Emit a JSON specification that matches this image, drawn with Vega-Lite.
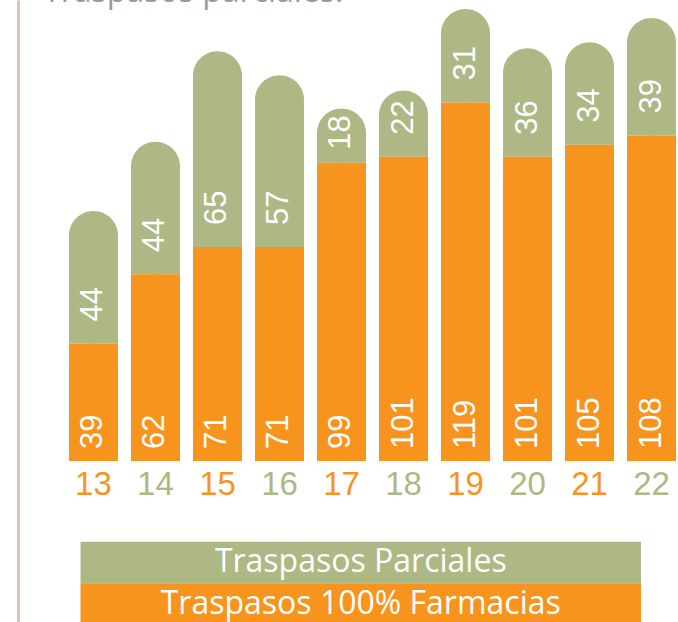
{
  "$schema": "https://vega.github.io/schema/vega-lite/v6.json",
  "autosize": "none",
  "width": 611,
  "height": 622,
  "padding": {"left": 67, "top": 0, "right": 0, "bottom": 0},
  "background": "white",
  "title": {
    "text": "Traspasos parciales.",
    "orient": "top",
    "anchor": "start",
    "frame": "group",
    "baseline": "alphabetic",
    "offset": -34,
    "dx": -24,
    "fontSize": 32,
    "font": "Open Sans",
    "fontWeight": "normal",
    "color": "#9a9a9a"
  },
  "config": {"view": {"stroke": null}},
  "resolve": {"scale": {"x": "independent", "y": "independent"}},
  "layer": [
    {
      "data": {
        "values": [
          {"year": "13", "serie": "Traspasos 100% Farmacias", "valor": 39},
          {"year": "13", "serie": "Traspasos Parciales", "valor": 44},
          {"year": "14", "serie": "Traspasos 100% Farmacias", "valor": 62},
          {"year": "14", "serie": "Traspasos Parciales", "valor": 44},
          {"year": "15", "serie": "Traspasos 100% Farmacias", "valor": 71},
          {"year": "15", "serie": "Traspasos Parciales", "valor": 65},
          {"year": "16", "serie": "Traspasos 100% Farmacias", "valor": 71},
          {"year": "16", "serie": "Traspasos Parciales", "valor": 57},
          {"year": "17", "serie": "Traspasos 100% Farmacias", "valor": 99},
          {"year": "17", "serie": "Traspasos Parciales", "valor": 18},
          {"year": "18", "serie": "Traspasos 100% Farmacias", "valor": 101},
          {"year": "18", "serie": "Traspasos Parciales", "valor": 22},
          {"year": "19", "serie": "Traspasos 100% Farmacias", "valor": 119},
          {"year": "19", "serie": "Traspasos Parciales", "valor": 31},
          {"year": "20", "serie": "Traspasos 100% Farmacias", "valor": 101},
          {"year": "20", "serie": "Traspasos Parciales", "valor": 36},
          {"year": "21", "serie": "Traspasos 100% Farmacias", "valor": 105},
          {"year": "21", "serie": "Traspasos Parciales", "valor": 34},
          {"year": "22", "serie": "Traspasos 100% Farmacias", "valor": 108},
          {"year": "22", "serie": "Traspasos Parciales", "valor": 39}
        ]
      },
      "transform": [
        {"stack": "valor", "groupby": ["year"], "sort": [{"field": "serie", "order": "ascending"}], "as": ["y0", "y1"]}
      ],
      "encoding": {
        "x": {
          "field": "year",
          "type": "nominal",
          "sort": null,
          "scale": {"paddingInner": 0.21, "paddingOuter": 0.032},
          "axis": {
            "orient": "bottom",
            "offset": -161,
            "domain": false,
            "ticks": false,
            "tickSize": 0,
            "labelPadding": 7,
            "labelAngle": 0,
            "labelFont": "Liberation Sans",
            "labelFontSize": 33,
            "labelColor": {"expr": "toNumber(datum.value) % 2 == 1 ? '#f7941d' : '#adb884'"},
            "title": null
          }
        },
        "y": {
          "field": "y1",
          "type": "quantitative",
          "scale": {"domain": [-53.4, 153], "nice": false, "zero": false},
          "axis": {
            "orient": "left",
            "offset": 49,
            "domain": true,
            "domainColor": "#d6c6b3",
            "domainWidth": 3,
            "labels": false,
            "ticks": false,
            "grid": false,
            "title": null
          }
        },
        "y2": {"field": "y0"}
      },
      "layer": [
        {
          "mark": {"type": "bar", "cornerRadiusTopLeft": 24.5, "cornerRadiusTopRight": 24.5},
          "encoding": {
            "color": {
              "field": "serie",
              "type": "nominal",
              "scale": {"domain": ["Traspasos Parciales", "Traspasos 100% Farmacias"], "range": ["#adb884", "#f7941d"]},
              "legend": null
            }
          }
        },
        {
          "transform": [{"filter": "datum.serie == 'Traspasos 100% Farmacias'"}],
          "mark": {"type": "bar", "color": "#f7941d"}
        },
        {
          "transform": [{"filter": "datum.serie == 'Traspasos 100% Farmacias'"}],
          "mark": {"type": "text", "angle": 270, "align": "left", "baseline": "middle", "dx": 12, "color": "white", "font": "Liberation Sans", "fontSize": 31},
          "encoding": {"y": {"field": "y0", "type": "quantitative"}, "y2": null, "text": {"field": "valor", "type": "quantitative"}}
        },
        {
          "transform": [{"filter": "datum.serie == 'Traspasos Parciales'"}],
          "mark": {"type": "text", "angle": 270, "align": "left", "baseline": "middle", "dx": {"expr": "datum.valor < 20 ? 13 : 22"}, "color": "white", "font": "Liberation Sans", "fontSize": 31},
          "encoding": {"y": {"field": "y0", "type": "quantitative"}, "y2": null, "text": {"field": "valor", "type": "quantitative"}}
        }
      ]
    },
    {
      "data": {
        "values": [
          {"serie": "Traspasos Parciales"},
          {"serie": "Traspasos 100% Farmacias"}
        ]
      },
      "encoding": {
        "y": {
          "field": "serie",
          "type": "nominal",
          "sort": null,
          "scale": {"domain": ["Traspasos Parciales", "Traspasos 100% Farmacias"], "range": [541.7, 624.7], "paddingInner": 0, "paddingOuter": 0},
          "axis": null
        }
      },
      "layer": [
        {
          "mark": {"type": "rect"},
          "encoding": {
            "x": {"datum": 0, "type": "quantitative", "scale": {"domain": [0, 1], "range": [13.5, 574], "nice": false, "zero": false}, "axis": null},
            "x2": {"datum": 1},
            "color": {"field": "serie", "type": "nominal", "legend": null}
          }
        },
        {
          "mark": {"type": "text", "color": "white", "font": "Open Sans", "fontWeight": "normal", "fontSize": 32, "align": "center", "baseline": "middle"},
          "encoding": {
            "x": {"datum": 0.5, "type": "quantitative", "scale": {"domain": [0, 1], "range": [13.5, 574], "nice": false, "zero": false}, "axis": null},
            "text": {"field": "serie", "type": "nominal"}
          }
        }
      ]
    }
  ]
}
